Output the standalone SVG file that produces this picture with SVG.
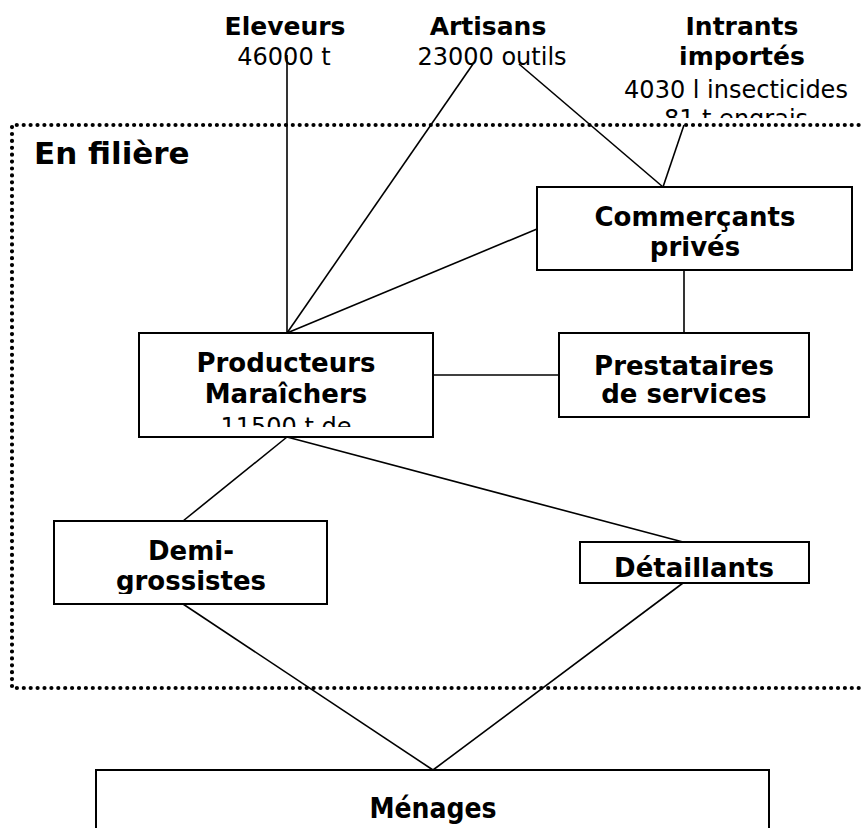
<svg xmlns="http://www.w3.org/2000/svg" width="863" height="828" viewBox="0 0 863 828">
<style>
  .box { fill: #ffffff; stroke: #000000; stroke-width: 2; }
  .link { stroke: #000000; stroke-width: 1.6; fill: none; }
  .frame { fill: none; stroke: #000000; stroke-width: 4.2; stroke-linecap: round; stroke-dasharray: 0 6.9; }
  .src { font-family: "DejaVu Sans", Verdana, sans-serif; font-weight: bold; font-size: 25px; text-anchor: middle; fill: #000; }
  .qty { font-family: "DejaVu Sans", Verdana, sans-serif; font-size: 24px; text-anchor: middle; fill: #000; }
  .lbl { font-family: "DejaVu Sans", Verdana, sans-serif; font-weight: bold; font-size: 26px; text-anchor: middle; fill: #000; }
  .title { font-family: "DejaVu Sans", Verdana, sans-serif; font-weight: bold; font-size: 31px; fill: #000; }
  .cond { font-family: "DejaVu Sans Condensed", "DejaVu Sans", sans-serif; font-stretch: condensed; font-weight: bold; font-size: 28px; text-anchor: middle; fill: #000; }
</style>
<defs>
  <clipPath id="clipEngrais"><rect x="600" y="100" width="263" height="18"/></clipPath>
  <clipPath id="clipProd"><rect x="141" y="335" width="290" height="92"/></clipPath>
  <clipPath id="clipDemi"><rect x="56" y="523" width="269" height="71"/></clipPath>
</defs>
<rect x="0" y="0" width="863" height="828" fill="#ffffff"/>

<g id="filiere">
  <path class="frame" d="M 900 125 L 12 125 L 12 688 L 900 688"/>
  <text class="title" x="34" y="164">En filière</text>
</g>

<g id="connectors">
  <line class="link" x1="287" y1="55" x2="287" y2="333"/>
  <line class="link" x1="473" y1="64" x2="287" y2="333"/>
  <line class="link" x1="519" y1="64" x2="663" y2="187"/>
  <line class="link" x1="684" y1="125" x2="663" y2="187"/>
  <line class="link" x1="537" y1="229" x2="287" y2="333"/>
  <line class="link" x1="684" y1="270" x2="684" y2="333"/>
  <line class="link" x1="433" y1="375" x2="559" y2="375"/>
  <line class="link" x1="287" y1="437" x2="183" y2="521"/>
  <line class="link" x1="287" y1="437" x2="683" y2="542"/>
  <line class="link" x1="183" y1="604" x2="433" y2="770"/>
  <line class="link" x1="683" y1="583" x2="433" y2="770"/>
</g>

<g id="eleveurs">
  <text class="src" x="285" y="35">Eleveurs</text>
  <text class="qty" x="284" y="65">46000 t</text>
</g>

<g id="artisans">
  <text class="src" x="488" y="35">Artisans</text>
  <text class="qty" x="492" y="65">23000 outils</text>
</g>

<g id="intrants">
  <text class="src" x="742" y="35">Intrants</text>
  <text class="src" x="742" y="65">importés</text>
  <text class="qty" x="736" y="98">4030 l insecticides</text>
  <text class="qty" x="736" y="127" clip-path="url(#clipEngrais)">81 t engrais</text>
</g>

<g id="commercants">
  <rect class="box" x="537" y="187" width="315" height="83"/>
  <text class="lbl" x="695" y="226">Commerçants</text>
  <text class="lbl" x="695" y="256">privés</text>
</g>

<g id="prestataires">
  <rect class="box" x="559" y="333" width="250" height="84"/>
  <text class="lbl" x="684" y="375">Prestataires</text>
  <text class="lbl" x="684" y="403">de services</text>
</g>

<g id="producteurs">
  <rect class="box" x="139" y="333" width="294" height="104"/>
  <text class="lbl" x="286" y="372">Producteurs</text>
  <text class="lbl" x="286" y="403">Maraîchers</text>
  <text class="qty" x="286" y="435" clip-path="url(#clipProd)">11500 t de</text>
</g>

<g id="demi-grossistes">
  <rect class="box" x="54" y="521" width="273" height="83"/>
  <text class="lbl" x="191" y="560" clip-path="url(#clipDemi)">Demi-</text>
  <text class="lbl" x="191" y="590" clip-path="url(#clipDemi)">grossistes</text>
</g>

<g id="detaillants">
  <rect class="box" x="580" y="542" width="229" height="41"/>
  <text class="lbl" x="694" y="577">Détaillants</text>
</g>

<g id="menages">
  <rect class="box" x="96" y="770" width="673" height="80"/>
  <text class="cond" x="433" y="818">Ménages</text>
</g>
</svg>
